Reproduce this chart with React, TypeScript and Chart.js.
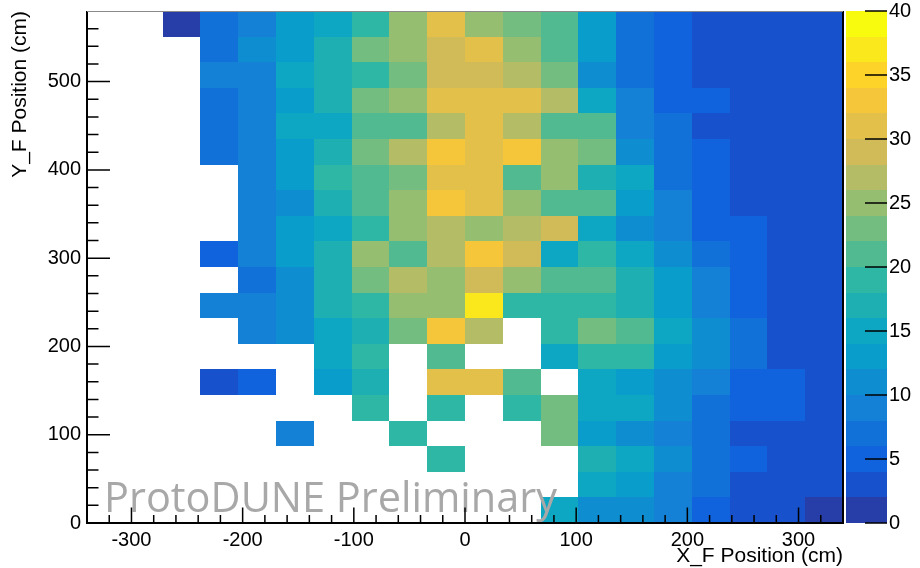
import React, { useEffect, useRef } from "react";
import { Chart, registerables } from "chart.js";

Chart.register(...registerables);

// ---- binning (cm) ----
const xBinLow = [-340, -306, -272, -238, -204, -170, -136, -102, -68, -34, 0, 34, 68, 102, 136, 170, 204, 238, 272, 306];
const yBinLow = [0, 29, 58, 87, 116, 145, 174, 203, 232, 261, 290, 319, 348, 377, 406, 435, 464, 493, 522, 551];
const xBinWidth = 34;
const yBinHeight = 29;
const xRange = [-340, 340];
const yRange = [0, 580];
const zRange = [0, 40];

// ---- tick labels ----
const xTickValues = [-300, -200, -100, 0, 100, 200, 300];
const yTickValues = [0, 100, 200, 300, 400, 500];
const zTickValues = [0, 5, 10, 15, 20, 25, 30, 35, 40];

// ---- colour palette (20 contour levels, 0..40) ----
const paletteColors = [
  "#273da8", "#1751cb", "#1063dc", "#1271d9", "#1480d6",
  "#0e8ed1", "#099dcc", "#0da7c3", "#1eafb3", "#2eb7a4",
  "#52ba91", "#74bd80", "#96be71", "#b4bd65", "#d1bb59",
  "#e3c04a", "#f5c63a", "#fdd32a", "#fbe81c", "#f9fb0e",
];
const levelStep = 2;

// ---- counts: rows from top (y 551-580 cm) to bottom (y 0-29 cm), columns x -340 → 340 ----
const _ = null;
const counts: (number | null)[][] = [
  [_, _, 1, 7, 9, 13, 15, 19, 25, 31, 25, 23, 21, 13, 7, 5, 3, 3, 3, 3],
  [_, _, _, 7, 11, 13, 17, 23, 25, 29, 31, 25, 21, 13, 7, 5, 3, 3, 3, 3],
  [_, _, _, 9, 9, 15, 17, 19, 23, 29, 29, 27, 23, 11, 7, 5, 3, 3, 3, 3],
  [_, _, _, 7, 9, 13, 17, 23, 25, 31, 31, 31, 27, 15, 9, 5, 5, 3, 3, 3],
  [_, _, _, 7, 9, 15, 15, 21, 21, 27, 31, 27, 21, 21, 9, 7, 3, 3, 3, 3],
  [_, _, _, 7, 9, 13, 17, 23, 27, 33, 31, 33, 25, 23, 11, 7, 5, 3, 3, 3],
  [_, _, _, _, 9, 13, 19, 21, 23, 31, 31, 21, 25, 17, 15, 7, 5, 3, 3, 3],
  [_, _, _, _, 9, 11, 17, 21, 25, 33, 31, 25, 21, 21, 13, 9, 5, 3, 3, 3],
  [_, _, _, _, 9, 13, 15, 19, 25, 27, 25, 27, 29, 15, 11, 9, 5, 5, 3, 3],
  [_, _, _, 5, 9, 13, 17, 25, 21, 27, 33, 29, 15, 19, 15, 11, 7, 5, 3, 3],
  [_, _, _, _, 7, 11, 17, 23, 27, 25, 29, 25, 21, 21, 17, 13, 9, 5, 3, 3],
  [_, _, _, 9, 9, 11, 17, 19, 25, 25, 37, 19, 19, 19, 17, 13, 9, 5, 3, 3],
  [_, _, _, _, 9, 11, 15, 17, 23, 33, 27, _, 19, 23, 21, 15, 11, 7, 3, 3],
  [_, _, _, _, _, _, 15, 19, _, 21, _, _, 15, 19, 19, 13, 11, 7, 3, 3],
  [_, _, _, 3, 5, _, 13, 17, _, 31, 31, 21, _, 15, 13, 11, 9, 5, 5, 3],
  [_, _, _, _, _, _, _, 19, _, 19, _, 19, 23, 15, 15, 11, 7, 5, 5, 3],
  [_, _, _, _, _, 9, _, _, 19, _, _, _, 23, 13, 11, 9, 7, 3, 3, 3],
  [_, _, _, _, _, _, _, _, _, 19, _, _, _, 17, 15, 11, 7, 5, 3, 3],
  [_, _, _, _, _, _, _, _, _, _, _, _, _, 15, 13, 9, 7, 3, 3, 3],
  [_, _, _, _, _, _, _, _, _, _, _, _, 15, 11, 11, 9, 5, 3, 3, 1],
];

const xTitle = "X_F Position (cm)";
const yTitle = "Y_F Position (cm)";
const watermark = "ProtoDUNE Preliminary";

const FONT = "'Liberation Sans', Arial, Helvetica, sans-serif";

function colorFor(v: number) {
  let lvl = Math.floor(v / levelStep);
  if (lvl < 0) lvl = 0;
  if (lvl > paletteColors.length - 1) lvl = paletteColors.length - 1;
  return paletteColors[lvl];
}

type Cell = { x: number; y: number; v: number; x0: number; y0: number };

function buildCells(): Cell[] {
  const out: Cell[] = [];
  const nRows = counts.length;
  counts.forEach((row, r) => {
    const yi = nRows - 1 - r;
    row.forEach((v, c) => {
      if (v === null || v === undefined) return;
      out.push({
        x: xBinLow[c] + xBinWidth / 2,
        y: yBinLow[yi] + yBinHeight / 2,
        v,
        x0: xBinLow[c],
        y0: yBinLow[yi],
      });
    });
  });
  return out;
}

function zeroPadding(s: any) {
  s.paddingTop = 0;
  s.paddingBottom = 0;
  s.paddingLeft = 0;
  s.paddingRight = 0;
}

const heatmapPlugin = {
  id: "heatmap",
  beforeDatasetsDraw(chart: any) {
    const { ctx, chartArea, scales } = chart;
    const xs = scales.x;
    const ys = scales.y;
    const cells: Cell[] = chart.data.datasets[0].data;
    ctx.save();
    ctx.beginPath();
    ctx.rect(chartArea.left, chartArea.top, chartArea.right - chartArea.left, chartArea.bottom - chartArea.top);
    ctx.clip();
    for (const cell of cells) {
      const l = Math.round(xs.getPixelForValue(cell.x0));
      const r = Math.round(xs.getPixelForValue(cell.x0 + xBinWidth));
      const t = Math.round(ys.getPixelForValue(cell.y0 + yBinHeight));
      const b = Math.round(ys.getPixelForValue(cell.y0));
      ctx.fillStyle = colorFor(cell.v);
      ctx.fillRect(l, t, r - l, b - t);
    }
    ctx.restore();
  },
};

const framePlugin = {
  id: "rootFrame",
  afterDraw(chart: any) {
    const { ctx, chartArea, scales } = chart;
    const xs = scales.x;
    const ys = scales.y;
    const zs = scales.z;
    const { left, right, top, bottom } = chartArea;

    // watermark
    ctx.save();
    ctx.fillStyle = "#a8a8a8";
    ctx.font = "42px 'Open Sans', 'Noto Sans', sans-serif";
    ctx.textBaseline = "alphabetic";
    ctx.textAlign = "left";
    const targetW = 453;
    const mw = ctx.measureText(watermark).width;
    ctx.translate(104, 512);
    ctx.scale(targetW / mw, 1);
    ctx.fillText(watermark, 0, 0);
    ctx.restore();

    // frame
    ctx.save();
    ctx.strokeStyle = "#000";
    ctx.lineWidth = 2;
    ctx.beginPath();
    ctx.moveTo(left, top);
    ctx.lineTo(left, bottom);
    ctx.lineTo(right, bottom);
    ctx.lineTo(right, top);
    ctx.stroke();
    ctx.strokeStyle = "#8a8a8a";
    ctx.lineWidth = 1;
    ctx.beginPath();
    ctx.moveTo(left, top + 0.5);
    ctx.lineTo(right, top + 0.5);
    ctx.stroke();

    // ticks (inward)
    ctx.strokeStyle = "#000";
    ctx.lineWidth = 1.5;
    ctx.beginPath();
    for (let v = yRange[0] + 20; v < yRange[1]; v += 20) {
      const py = ys.getPixelForValue(v);
      const len = v % 100 === 0 ? 23 : 11.5;
      ctx.moveTo(left, py);
      ctx.lineTo(left + len, py);
    }
    for (let v = xRange[0] + 20; v < xRange[1]; v += 20) {
      const px = xs.getPixelForValue(v);
      const len = v % 100 === 0 ? 15.5 : 8;
      ctx.moveTo(px, bottom);
      ctx.lineTo(px, bottom - len);
    }
    ctx.stroke();

    // colour bar
    const barL = 846;
    const barR = 887;
    for (let i = 0; i < paletteColors.length; i++) {
      const t = Math.round(zs.getPixelForValue((i + 1) * levelStep));
      const b = Math.round(zs.getPixelForValue(i * levelStep));
      ctx.fillStyle = paletteColors[i];
      ctx.fillRect(barL, t, barR - barL, b - t);
    }
    ctx.beginPath();
    for (const v of zTickValues) {
      const py = zs.getPixelForValue(v);
      ctx.moveTo(barR, py);
      ctx.lineTo(barR - 22, py);
    }
    ctx.stroke();

    // axis titles
    ctx.fillStyle = "#000";
    ctx.font = `21px ${FONT}`;
    ctx.textAlign = "right";
    ctx.textBaseline = "middle";
    ctx.fillText(xTitle, right, 556);
    ctx.translate(20, top);
    ctx.rotate(-Math.PI / 2);
    ctx.fillText(yTitle, 0, 0);
    ctx.restore();
  },
};

export default function App() {
  const canvasRef = useRef<HTMLCanvasElement | null>(null);

  useEffect(() => {
    document.body.style.margin = "0";
    const canvas = canvasRef.current;
    if (!canvas) return;
    const cells = buildCells();
    const tickFont = { family: FONT, size: 20 };
    const chart = new Chart(canvas, {
      type: "scatter",
      data: {
        datasets: [
          {
            data: cells as any,
            pointRadius: 0,
            pointHoverRadius: 0,
            showLine: false,
          },
        ],
      },
      options: {
        animation: false,
        responsive: false,
        devicePixelRatio: 1,
        layout: { padding: { top: 11, left: 0, right: 0, bottom: 0 } },
        plugins: {
          legend: { display: false },
          tooltip: { enabled: false },
        },
        events: [],
        scales: {
          x: {
            type: "linear",
            position: "bottom",
            min: xRange[0],
            max: xRange[1],
            grid: { display: false, drawTicks: false },
            border: { display: false },
            afterBuildTicks: (s: any) => {
              s.ticks = xTickValues.map((v) => ({ value: v }));
            },
            afterFit: (s: any) => {
              s.height = 45;
              zeroPadding(s);
            },
            ticks: { font: tickFont, color: "#000", padding: 5, maxRotation: 0, autoSkip: false },
          },
          y: {
            type: "linear",
            position: "left",
            min: yRange[0],
            max: yRange[1],
            grid: { display: false, drawTicks: false },
            border: { display: false },
            afterBuildTicks: (s: any) => {
              s.ticks = yTickValues.map((v) => ({ value: v }));
            },
            afterFit: (s: any) => {
              s.width = 87;
              zeroPadding(s);
            },
            ticks: { font: tickFont, color: "#000", padding: 6, autoSkip: false },
          },
          z: {
            type: "linear",
            position: "right",
            min: zRange[0],
            max: zRange[1],
            grid: { display: false, drawTicks: false },
            border: { display: false },
            afterBuildTicks: (s: any) => {
              s.ticks = zTickValues.map((v) => ({ value: v }));
            },
            afterFit: (s: any) => {
              s.width = 77;
              zeroPadding(s);
            },
            ticks: { font: tickFont, color: "#000", padding: 46, autoSkip: false },
          },
        },
      } as any,
      plugins: [heatmapPlugin, framePlugin],
    });
    return () => {
      chart.destroy();
    };
  }, []);

  return (
    <div style={{ position: "absolute", left: 0, top: 0, width: 920, height: 568, background: "#fff" }}>
      <canvas ref={canvasRef} width={920} height={568} />
    </div>
  );
}
